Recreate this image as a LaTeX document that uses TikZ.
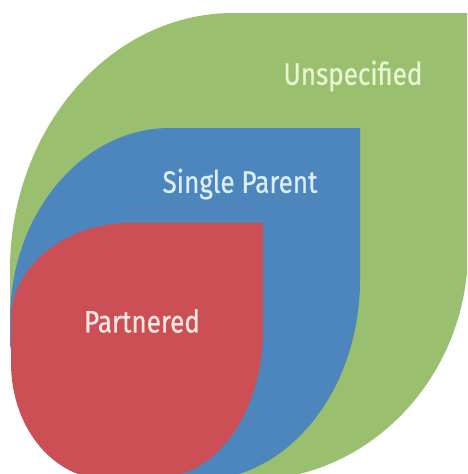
\documentclass[tikz,border=0pt]{standalone}
\usepackage{fontspec}
\setmainfont{Fira Sans}[FakeStretch=0.84,FakeBold=0.5]
\definecolor{unspec}{HTML}{9ABF6F}
\definecolor{single}{HTML}{4D86BD}
\definecolor{partner}{HTML}{CB4F55}
\definecolor{unspectext}{HTML}{EAF6D2}
\definecolor{singletext}{HTML}{DCEEFC}
\definecolor{partnertext}{HTML}{FBE8E4}
\tikzset{%
    leaftext/.style={font=\fontsize{31}{36}\selectfont, inner sep=0pt}
}

\begin{document}
\begin{tikzpicture}[x=1pt,y=-1pt]
      \useasboundingbox (0,0) rectangle (467,474);
      \clip (0,0) rectangle (467,474);

      % outer leaf
      \fill[unspec] (10,270) .. controls (10,129) and (110,13) .. (233,13)
        -- (468,13) -- (468,250)
        .. controls (468,377) and (369,480) .. (250,480)
        -- (100,478) .. controls (54,478) and (14,426) .. (14,363)
        -- (10,340) -- cycle;

      % middle leaf
      \fill[single] (10,320) .. controls (10,214) and (82,128) .. (170,128)
        -- (360,128) -- (360,280)
        .. controls (360,390) and (288,480) .. (200,480)
        -- (100,478) .. controls (54,478) and (14,426) .. (14,363)
        -- (10,345) -- cycle;

      % inner leaf
      \fill[partner] (11,320) .. controls (11,267) and (65,223) .. (130,223)
        -- (263,223) -- (263,330)
        .. controls (263,411) and (217,477) .. (160,477)
        -- (100,477) .. controls (52,477) and (11,426) .. (11,363) -- cycle;

      \node[leaftext, text=unspectext] (unspecified) at (353,76) {Unspecified};
      \node[leaftext, text=singletext] (singleparent) at (240,184) {Single Parent};
      \node[leaftext, text=partnertext] (partnered) at (142,321) {Partnered};
\end{tikzpicture}
\end{document}
